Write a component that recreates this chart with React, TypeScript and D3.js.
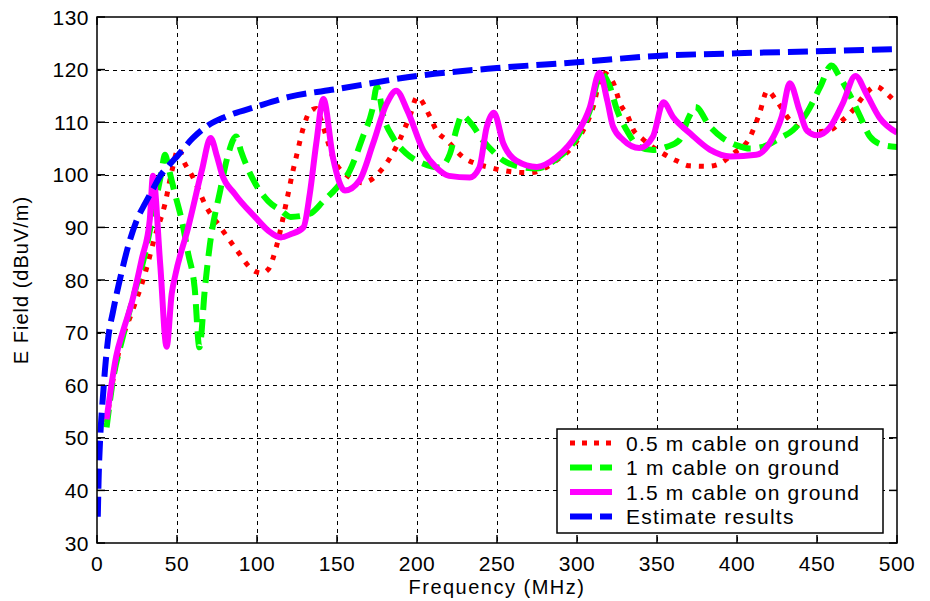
import * as d3 from "d3";

// chart size and plot box
const width = 930;
const height = 601;
const margin = { top: 17, right: 33, bottom: 58, left: 97 };
const innerW = width - margin.left - margin.right;
const innerH = height - margin.top - margin.bottom;

// tick values
const xTicks = [0, 50, 100, 150, 200, 250, 300, 350, 400, 450, 500];
const yTicks = [30, 40, 50, 60, 70, 80, 90, 100, 110, 120, 130];

// 0.5 m cable on ground
const freqHalf = [6, 10, 15, 22, 30, 36, 42.5, 47, 51, 54, 60, 68.5, 77, 87.5, 97, 103, 107, 112, 118.5, 122.5, 125, 129, 133, 137, 141.5, 147.5, 158, 166, 179, 189, 196, 200, 208, 212, 218.5, 229, 237, 245.6, 254, 262, 270.6, 287, 300, 310, 316, 322.5, 327, 332, 335, 341, 354, 362, 370.6, 381, 389, 397.5, 408, 414, 419, 424.6, 433, 441, 450, 458, 466, 472.5, 479, 487, 494, 500];
const valHalf = [53, 61, 68, 74, 81.2, 88, 94.5, 101, 105, 102.7, 99.5, 93.8, 90.1, 85.6, 82, 81.3, 82, 86.2, 95, 100.8, 104, 109, 112, 112.6, 109, 103.3, 99.5, 98.5, 101.4, 106.5, 111.6, 114.8, 111.1, 108.5, 106.6, 103.3, 102.1, 101.4, 100.8, 100.5, 100.4, 102.7, 106.5, 112.8, 119.4, 117.6, 113.5, 111, 108.7, 106.8, 104, 102.7, 101.7, 101.6, 102.1, 104, 107.1, 111.6, 116, 114.1, 110.4, 108.5, 108.2, 108.5, 110.4, 112.3, 114.9, 116.8, 115.3, 113.5];

// 1 m cable on ground
const freqOne = [6, 10, 16, 22, 30, 36, 40, 42.5, 45, 48.7, 53, 57, 61, 64, 67.5, 70.6, 77, 82, 87, 90, 99, 107, 115, 121, 133, 141.5, 150, 158, 166, 172, 175, 179, 185, 193.5, 204, 214, 220.6, 225, 228, 234, 241, 249, 254, 262, 275, 287, 300, 308, 315, 320.6, 325, 331, 339, 347.5, 356, 364, 370, 374, 383, 391, 400, 408, 416, 427, 435, 443.5, 452, 459, 464, 471, 477, 483, 491, 500];
const valOne = [52, 61, 69, 76, 85, 94, 100, 103.8, 101, 96.4, 91.3, 85, 78.6, 67.2, 78.6, 86.8, 97, 103.9, 107.3, 104.5, 98.3, 95, 93.2, 92, 92.6, 95, 97.6, 100.8, 107.1, 112.3, 116.8, 111.1, 107.1, 104, 102.1, 101.4, 104, 109, 111.3, 109.7, 106.6, 104, 102.7, 101.7, 101.2, 103, 107.1, 112.2, 119.3, 116.7, 112.3, 108.5, 105.3, 104.7, 105.3, 106.6, 111, 112.9, 109.2, 107, 105.6, 105, 105.3, 107, 108.5, 111.7, 116.7, 120.8, 118.7, 114.9, 111.1, 107.3, 105.7, 105.3];

// 1.5 m cable on ground
const freqOneHalf = [6, 9, 12, 16, 22, 28, 33, 35, 39.5, 43.5, 46.7, 49, 57, 65.5, 71, 75, 78, 86, 99, 107, 115, 121, 129, 133, 137, 141.5, 147.5, 155, 164, 172.5, 181, 187, 194, 204, 212, 220, 233, 239, 243.5, 248, 254, 262, 275, 287, 300, 308, 314, 319, 322.5, 329, 339, 347.5, 354, 360, 371, 383, 396, 412, 420.6, 428, 433, 439, 443.5, 450, 458, 466, 474, 481, 489, 500];
const valOneHalf = [53.5, 60, 65.5, 70, 76, 84, 91.5, 99.8, 83, 67.3, 77.4, 81, 90, 100.8, 107, 103.5, 100.2, 96.4, 91.9, 89.4, 88.1, 88.7, 90, 96.4, 105.9, 114.4, 103.2, 97, 98.9, 105.9, 113.5, 116, 112.2, 104.6, 101.4, 99.8, 99.5, 101.4, 109, 111.8, 105.9, 102.7, 101.5, 103.3, 107.8, 112.8, 119.4, 114, 109.2, 106.6, 105.1, 107.3, 113.8, 111, 107.8, 104.8, 103.5, 103.8, 106.1, 111.1, 117.4, 112.3, 108.5, 107.5, 109, 113.5, 118.8, 115.3, 110.9, 108];

// Estimate results
const freqEst = [0.5, 1, 2, 3, 4, 5, 7, 10, 15, 20, 25, 30, 35, 40, 45, 50, 60, 70, 80, 100, 120, 150, 200, 250, 300, 350, 400, 450, 500];
const valEst = [35, 42, 50, 55, 59, 63, 69, 74, 81, 87, 91.5, 94.5, 97.3, 100, 101.8, 103.5, 107, 109.5, 111, 113, 114.8, 116.3, 118.8, 120.3, 121.4, 122.6, 123.1, 123.5, 123.9];

const series = [
  { name: "0.5 m cable on ground", x: freqHalf, y: valHalf, color: "#ff0000", width: 5, dash: "5 8", legendDash: "5 7" },
  { name: "1 m cable on ground", x: freqOne, y: valOne, color: "#00ff00", width: 6, dash: "18 9", legendDash: "22 8" },
  { name: "1.5 m cable on ground", x: freqOneHalf, y: valOneHalf, color: "#ff00ff", width: 6, dash: null, legendDash: null },
  { name: "Estimate results", x: freqEst, y: valEst, color: "#0000ff", width: 6, dash: "20 8", legendDash: "22 8" },
];

const font = "'Liberation Sans', Arial, sans-serif";

export default function App() {
  const x = d3.scaleLinear().domain([0, 500]).range([0, innerW]);
  const y = d3.scaleLinear().domain([30, 130]).range([innerH, 0]);
  // snap thin lines to the pixel grid
  const px = (v: number) => Math.round(v) + 0.5;

  const line = d3
    .line<[number, number]>()
    .x((d) => x(d[0]))
    .y((d) => y(d[1]))
    .curve(d3.curveMonotoneX);

  // legend placement
  const lg = { x: 557 - margin.left, y: 429 - margin.top, w: 326, h: 104 };

  return (
    <svg
      width={width}
      height={height}
      style={{ position: "absolute", left: 0, top: 0, background: "#fff" }}
      fontFamily={font}
    >
      <defs>
        <clipPath id="plot-clip">
          <rect x={0} y={0} width={innerW} height={innerH} />
        </clipPath>
      </defs>
      <g transform={`translate(${margin.left},${margin.top})`}>
        {/* grid */}
        <g shapeRendering="crispEdges">
          {xTicks.slice(1, -1).map((t) => (
            <line key={"gx" + t} x1={px(x(t))} x2={px(x(t))} y1={0} y2={innerH} stroke="#000" strokeWidth={1} strokeDasharray="4 4" />
          ))}
          {yTicks.slice(1, -1).map((t) => (
            <line key={"gy" + t} x1={0} x2={innerW} y1={px(y(t))} y2={px(y(t))} stroke="#000" strokeWidth={1} strokeDasharray="4 4" />
          ))}
        </g>

        {/* curves */}
        <g clipPath="url(#plot-clip)">
          {series.map((s) => (
            <path
              key={s.name}
              d={line(s.x.map((f, i) => [f, s.y[i]] as [number, number])) || ""}
              fill="none"
              stroke={s.color}
              strokeWidth={s.width}
              strokeDasharray={s.dash || undefined}
              strokeLinejoin="round"
            />
          ))}
        </g>

        {/* box and inward ticks */}
        <rect x={0} y={0} width={innerW} height={innerH} fill="none" stroke="#000" strokeWidth={1.5} />
        {xTicks.map((t) => (
          <g key={"tx" + t}>
            <line x1={x(t)} x2={x(t)} y1={innerH} y2={innerH - 8} stroke="#000" strokeWidth={1.5} />
            <line x1={x(t)} x2={x(t)} y1={0} y2={8} stroke="#000" strokeWidth={1.5} />
            <text x={x(t)} y={innerH + 28} textAnchor="middle" fontSize={21} letterSpacing={0.5} fill="#000">
              {t}
            </text>
          </g>
        ))}
        {yTicks.map((t) => (
          <g key={"ty" + t}>
            <line x1={0} x2={8} y1={y(t)} y2={y(t)} stroke="#000" strokeWidth={1.5} />
            <line x1={innerW} x2={innerW - 8} y1={y(t)} y2={y(t)} stroke="#000" strokeWidth={1.5} />
            <text x={-8} y={y(t)} dy="0.36em" textAnchor="end" fontSize={21} letterSpacing={0.5} fill="#000">
              {t}
            </text>
          </g>
        ))}

        {/* legend */}
        <g transform={`translate(${lg.x},${lg.y})`}>
          <rect x={0} y={0} width={lg.w} height={lg.h} fill="#fff" stroke="#000" strokeWidth={1.5} />
          {series.map((s, i) => {
            const cy = 14 + i * 24.5;
            return (
              <g key={"lg" + s.name}>
                <line
                  x1={13}
                  x2={55}
                  y1={cy}
                  y2={cy}
                  stroke={s.color}
                  strokeWidth={s.width}
                  strokeDasharray={s.legendDash || undefined}
                />
                <text x={69} y={cy} dy="0.36em" fontSize={21} letterSpacing={1.2} fill="#000">
                  {s.name}
                </text>
              </g>
            );
          })}
        </g>
      </g>

      {/* axis titles */}
      <text x={margin.left + innerW / 2} y={594} textAnchor="middle" fontSize={20} letterSpacing={1.5} fill="#000">
        Frequency (MHz)
      </text>
      <text
        transform={`translate(${28},${margin.top + innerH / 2}) rotate(-90)`}
        textAnchor="middle"
        fontSize={20}
        letterSpacing={1}
        fill="#000"
      >
        E Field (dBuV/m)
      </text>
    </svg>
  );
}
